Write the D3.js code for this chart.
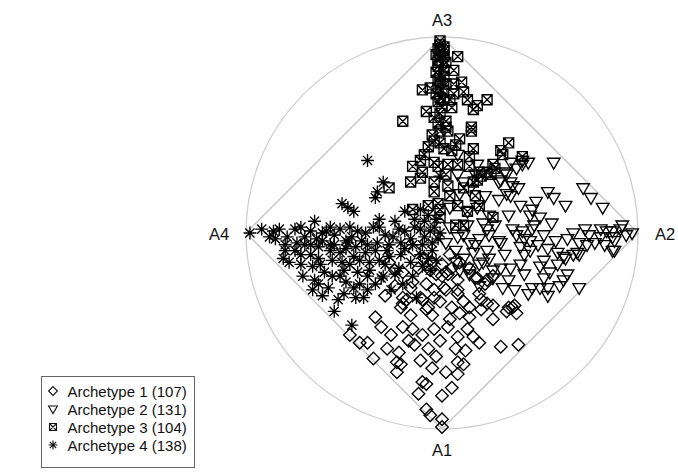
<!DOCTYPE html>
<html>
<head>
<meta charset="utf-8">
<script src="https://cdn.jsdelivr.net/npm/d3@7"></script>
<style>
  body { margin: 0; background: #fff; }
  svg { display: block; font-family: "Liberation Sans", Arial, sans-serif; }
</style>
</head>
<body>
<svg id="chart" width="678" height="475"></svg>
<script>
    // archetype corners in the projection space (-100..100)
    const archLabels = ['A1', 'A2', 'A3', 'A4'];
    const archCoords = [[0, -100], [100, 0], [0, 100], [-100, 0]];

    const legendNames = ['Archetype 1', 'Archetype 2', 'Archetype 3', 'Archetype 4'];
    const legendCounts = [107, 131, 104, 138];

    // projected observations, [x, y] per point
    const arch1 = [
      [-20,-20],[-8,-26],[-3,-21],[2,-20],[8,-24],[8,-29],[2,-29],[-4,-33],[-11,-33],[-18,-34],[-20,-36],[-7,-38],[-1,-35],[5,-38],[11,-35],
      [18,-23],[23,-24],[26,-22],[19,-31],[23,-36],[14,-38],[9,-41],[20,-39],[26,-44],[36,-38],[38,-41],[33,-40],
      [-16,-42],[-20,-48],[-15,-49],[-10,-52],[-4,-49],[3,-48],[8,-53],[13,-49],[16,-53],[19,-56],[30,-58],[39,-57],[-31,-48],[-47,-52],
      [-42,-56],[-38,-56],[-28,-59],[-35,-64],[-22,-61],[-23,-66],[-21,-67],[-23,-71],[-7,-59],[-3,-63],[2,-71],[8,-66],[11,-67],[8,-72],[5,-79],[-10,-76],[-8,-77],[-12,-82],[0,-83],[-8,-90],[-6,-93],[0,-95],[0,-99],
      [-27,-15],[-24,-19],[-15,-25],[-6,-19],[0,-22],[-10,-34],[-20,-33],[-21,-38],[-8,-39],[-4,-29],[1,-28],[-5,-42],[3,-21],[8,-31],[17,-23],[22,-26],[20,-34],[26,-37],[34,-38],[37,-37],[0,-16],[5,-18],
      [-14,-9],[-9,-13],[-5,-15],[4,-11],[9,-15],[14,-18],[-12,-18],[-24,-27],[-29,-32],[-16,-28],[4,-44],[-1,-55],[14,-43],[-14,-57],[-26,-52],[-34,-43],[12,-60],[7,-59],[-5,-69],[-11,-65],[-17,-55]
    ];
    const arch2 = [
      [11,-1],[14,-5],[19,-3],[24,-1],[29,-4],[36,2],[38,-1],[41,1],[45,-4],[49,-6],[52,-1],[54,-8],[59,-10],[62,-12],[64,-3],[67,0],[70,-5],[74,-6],[67,-11],[70,-11],[75,-1],[81,2],[84,1],[87,-2],[91,2],[94,-1],[97,0],[87,-9],
      [11,-13],[13,-18],[19,-16],[24,-13],[30,-18],[35,-18],[40,-16],[34,-24],[31,-28],[26,-23],[50,-17],[55,-20],[59,-16],[64,-21],[63,-13],[46,-28],[50,-28],[54,-28],[52,-23],[70,-28],[54,-32],
      [44,36],[57,36],[72,23],[54,21],[63,14],[82,13],[29,17],[33,20],[48,16],[18,13],[34,9],[46,12],[50,8],[56,5],[45,9],[92,4],[87,1],[88,-4],[88,-9],[69,-10],
      [52,-14],[45,-9],[40,-7],[62,-24],[44,-31],[26,-19],[21,-15],[16,-10],[23,-9],[30,-5],[4,13],[9,20],[11,26],[30,27],[35,26],[32,31],[38,33],[41,37],[18,35],[8,30],
      [8,40],[13,11],[13,4],[21,5],[8,-2],[4,3],[23,2],[42,-3],[46,2],
      [35,36],[41,35],[33,30],[29,26],[36,24],[39,23],[35,19],[57,18],[76,18],[14,22],[22,19],[24,9],[17,-6],[7,-9],[27,4],[32,-11],[42,-21],[37,-29],[60,-27],[58,-4],
      [47,4],[78,-5],[83,-6],[40,14],[14,-21],[19,-27],[81,-2],[73,2],[42,-11],[9,-19],[7,-15],[17,30],[2,-5]
    ];
    const arch3 = [
      [-1,98],[-1,96],[1,95],[-2,94],[-1,93],[1,93],[-3,91],[-1,90],[1,90],[-2,88],[0,87],[2,87],[8,90],[6,83],[-2,85],[1,83],[-3,82],[-1,80],[1,80],[-2,78],[-1,77],[2,76],[6,76],[10,77],
      [-2,74],[0,73],[-6,74],[-10,73],[11,72],[6,71],[-3,71],[-1,69],[1,68],[4,68],[-2,67],[0,64],[5,64],[13,68],[18,65],[23,68],[16,63],[-8,62],[-4,59],[2,57],[-20,57],[-2,56],[-1,61],[15,54],
      [-1,52],[3,52],[9,48],[15,52],[-1,46],[-7,44],[1,43],[5,42],[16,43],[-11,37],[-15,34],[-10,31],[-4,36],[-2,34],[3,35],[8,35],[14,34],[19,31],[23,31],[-16,26],[-27,23],[-4,26],[3,24],[-4,21],
      [11,23],[16,26],[-2,15],[8,14],[13,11],[-15,12],[11,4],[-1,12],[-1,8],[34,46],[31,40],[41,39],[27,33],[25,30],[20,29],[26,8],[-5,50],[2,54],[7,45],[18,27],[26,35],[17,19],[4,19],[19,14],
      [7,4],[-7,14],[-11,28],[2,30],[-4,47],[14,39],[30,42],[-9,40]
    ];
    const arch4 = [
      [-38,37],[-30,26],[-33,21],[-34,18],[-51,15],[-48,13],[-45,11],[-19,11],[-11,12],[-65,6],[-1,29],
      [-98,0],[-86,1],[-88,-2],[-85,-3],[-79,-2],[-75,2],[-70,-2],[-67,1],[-64,-3],[-61,0],[-59,1],[-55,-1],[-52,2],[-49,-4],[-46,-2],[-43,1],[-39,0],[-35,3],[-32,3],[-29,-1],
      [-25,-2],[-22,2],[-19,1],[-16,-3],[-14,3],[-11,2],[-9,-2],[-6,1],[-4,3],[-2,-3],[-1,0],[-5,-5],[-10,-6],[-15,-6],[-21,-5],[-27,-6],[-33,-5],[-38,-6],[-44,-7],[-49,-8],
      [-57,-6],[-63,-7],[-70,-6],[-74,-5],[-80,-6],[-83,2],[-92,2],[-72,3],[-47,3],[-41,-4],[-57,3],[-14,7],[-9,6],[-24,6],[-32,7],[-3,7],[-7,9],
      [-81,-13],[-75,-9],[-72,-16],[-71,-22],[-66,-17],[-62,-16],[-57,-9],[-52,-10],[-56,-22],[-50,-19],[-45,-12],[-42,-14],[-37,-15],[-38,-22],[-31,-23],[-27,-12],[-58,-28],[-61,-32],[-50,-31],[-44,-33],
      [-42,-26],[-10,-17],[-15,-22],[-5,-9],[-3,-14],[-61,-4],[-56,-14],[-52,-22],[-63,-26],[-55,-40],[-46,-47],[-45,-28],[-38,-29],[-40,-33],[-30,-22],[-20,-26],[-32,-14],[-13,-33],[-67,-11],[-78,-15],
      [-47,-16],[-34,-9],[-21,-11],[-16,-15],[-11,-11],[-22,-18],[-29,-16],[-49,-25],[-65,-24],[-66,-29],[-53,-34],[-37,-19],[-24,-21],[-19,-8],[-39,-10],[-7,-13],[-60,-20],[-48,-5],[-63,-13],[-28,-9],
      [-43,-20],[-72,-11],[-34,-26],[-51,-15],[-67,-6],[-26,-29],[-6,-19],[-55,-6],[-80,-9]
    ];
    const series = [arch1, arch2, arch3, arch4];

    // marker shapes, R style pch 5 / 6 / 7 / 8
    function symbolPath(k, s) {
      if (k === 0) return `M0,${-6.3*s}L${6.3*s},0L0,${6.3*s}L${-6.3*s},0Z`;
      if (k === 1) return `M${-6.3*s},${-4.2*s}L${6.3*s},${-4.2*s}L0,${6.6*s}Z`;
      if (k === 2) {
        const h = 5 * s;
        return `M${-h},${-h}H${h}V${h}H${-h}ZM${-h},${-h}L${h},${h}M${h},${-h}L${-h},${h}`;
      }
      const a = 6.4 * s, b = 4.6 * s;
      return `M${-a},0H${a}M0,${-a}V${a}M${-b},${-b}L${b},${b}M${b},${-b}L${-b},${b}`;
    }

    const svg = d3.select('#chart');
    const cx = 442, cy = 233, R = 196;
    const x = d3.scaleLinear().domain([-100, 100]).range([cx - R, cx + R]);
    const y = d3.scaleLinear().domain([-100, 100]).range([cy + R, cy - R]);

    const frame = svg.append('g');
    frame.append('circle')
      .attr('cx', x(0)).attr('cy', y(0)).attr('r', x(100) - x(0))
      .attr('fill', 'none').attr('stroke', '#cfcfcf').attr('stroke-width', 1.3);

    // spokes from centre to each archetype
    frame.selectAll('line.spoke').data(archCoords).join('line')
      .attr('class', 'spoke')
      .attr('x1', x(0)).attr('y1', y(0))
      .attr('x2', d => x(d[0])).attr('y2', d => y(d[1]))
      .attr('stroke', '#dedede').attr('stroke-width', 1);

    // convex hull of the archetypes
    frame.append('path')
      .attr('d', d3.line().x(d => x(d[0])).y(d => y(d[1]))([...archCoords, archCoords[0]]))
      .attr('fill', 'none').attr('stroke', '#c4c4c4').attr('stroke-width', 1.3);

    series.forEach((pts, k) => {
      svg.append('g').selectAll('path').data(pts).join('path')
        .attr('transform', d => `translate(${x(d[0])},${y(d[1])})`)
        .attr('d', symbolPath(k, 1))
        .attr('fill', 'none')
        .attr('stroke', '#000')
        .attr('stroke-width', 1.35);
    });

    // archetype labels
    const labelOffset = [[0, 27], [27, 7], [0, -11], [-27, 7]];
    svg.append('g').selectAll('text').data(archLabels).join('text')
      .attr('x', (d, i) => x(archCoords[i][0]) + labelOffset[i][0])
      .attr('y', (d, i) => y(archCoords[i][1]) + labelOffset[i][1])
      .attr('text-anchor', 'middle')
      .attr('font-size', 16.5)
      .attr('fill', '#111')
      .text(d => d);

    // legend
    const lg = svg.append('g');
    lg.append('rect')
      .attr('x', 41.5).attr('y', 376.5).attr('width', 153).attr('height', 91)
      .attr('fill', '#fff').attr('stroke', '#666').attr('stroke-width', 1);
    legendNames.forEach((name, i) => {
      const ry = 391 + i * 18;
      lg.append('path')
        .attr('transform', `translate(53,${ry})`)
        .attr('d', symbolPath(i, 0.7))
        .attr('fill', 'none').attr('stroke', '#111').attr('stroke-width', 1.1);
      lg.append('text')
        .attr('x', 67.5).attr('y', ry + 5.5)
        .attr('font-size', 15).attr('fill', '#111')
        .text(`${name} (${legendCounts[i]})`);
    });
</script>
</body>
</html>
